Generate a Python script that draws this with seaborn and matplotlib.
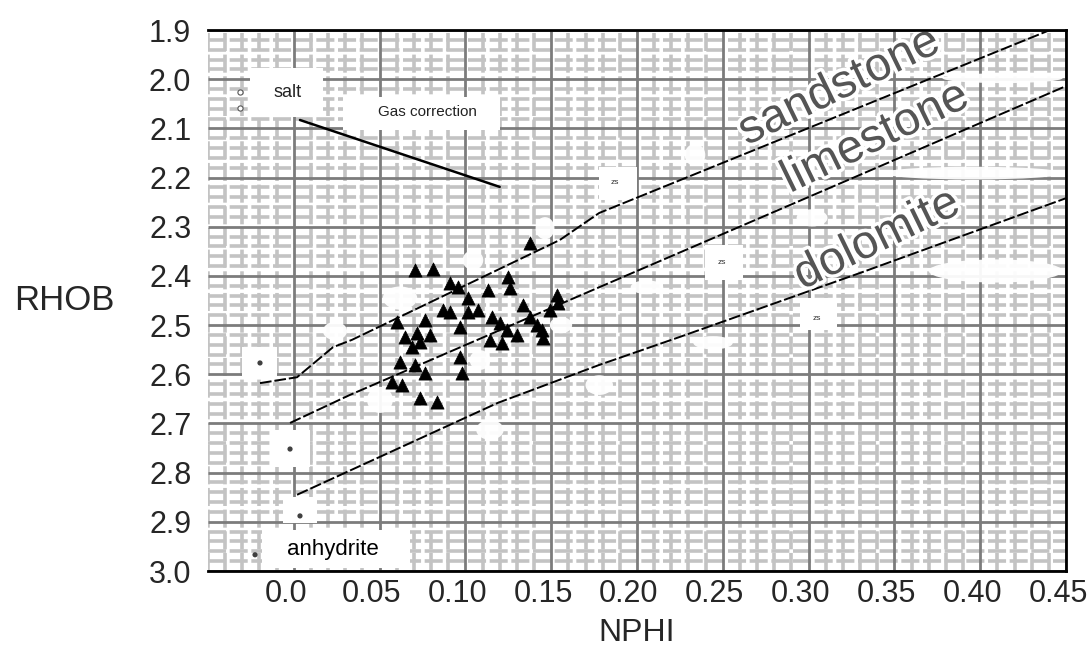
import pandas as pd
import seaborn as sns
import matplotlib
matplotlib.use('Agg')
import matplotlib.pyplot as plt
import matplotlib.patheffects as pe
from matplotlib.patches import Rectangle, Ellipse
from matplotlib.ticker import MultipleLocator
from matplotlib.transforms import ScaledTranslation

# pontos medidos (triangulos pretos)
nphi = [0.0706, 0.0811, 0.0910, 0.0957, 0.1132, 0.1248, 0.1260, 0.1376, 0.1015,
        0.0869, 0.0910, 0.1015, 0.1073, 0.1336, 0.1534, 0.1493, 0.0764, 0.0969,
        0.1155, 0.1202, 0.1242, 0.1376, 0.1417, 0.1446, 0.1301, 0.1452, 0.0648,
        0.0718, 0.0794, 0.0689, 0.0735, 0.1143, 0.1213, 0.0619, 0.0706, 0.0764,
        0.0980, 0.0572, 0.0631, 0.0735, 0.0834, 0.0601, 0.0969, 0.1540]
rhob = [2.388, 2.386, 2.414, 2.423, 2.429, 2.402, 2.425, 2.333, 2.445,
        2.469, 2.473, 2.473, 2.469, 2.459, 2.439, 2.469, 2.490, 2.504,
        2.484, 2.496, 2.510, 2.484, 2.500, 2.510, 2.520, 2.526, 2.524,
        2.516, 2.520, 2.545, 2.534, 2.530, 2.536, 2.575, 2.581, 2.597,
        2.597, 2.616, 2.622, 2.648, 2.656, 2.494, 2.565, 2.455]

# linhas de litologia
sand_nphi = [-0.0197, 0.0019, 0.0228, 0.0339, 0.155, 0.178, 0.4407]
sand_rhob = [2.618, 2.606, 2.545, 2.530, 2.327, 2.272, 1.900]
lime_nphi = [-0.0022, 0.0327, 0.178, 0.450]
lime_rhob = [2.699, 2.642, 2.423, 2.014]
dolo_nphi = [0.0019, 0.119, 0.178, 0.225, 0.330, 0.450]
dolo_rhob = [2.845, 2.658, 2.581, 2.524, 2.394, 2.242]
gas_nphi = [0.0036, 0.120]
gas_rhob = [2.083, 2.219]

x_ticks = [0.0, 0.05, 0.10, 0.15, 0.20, 0.25, 0.30, 0.35, 0.40, 0.45]
x_labels = ['0.0', '0.05', '0.10', '0.15', '0.20', '0.25', '0.30', '0.35', '0.40', '0.45']
y_ticks = [1.9, 2.0, 2.1, 2.2, 2.3, 2.4, 2.5, 2.6, 2.7, 2.8, 2.9, 3.0]
y_labels = ['1.9', '2.0', '2.1', '2.2', '2.3', '2.4', '2.5', '2.6', '2.7', '2.8', '2.9', '3.0']

# caixas brancas dos rotulos (x0, x1, y0, y1)
boxes = [(-0.0255, 0.017, 1.977, 2.077), (0.0287, 0.120, 2.036, 2.103),
         (-0.0185, 0.0677, 2.917, 2.994), (-0.0302, -0.0098, 2.545, 2.606),
         (-0.0121, 0.0094, 2.713, 2.789), (-0.0063, 0.0135, 2.850, 2.903),
         (0.178, 0.200, 2.179, 2.246), (0.2396, 0.2618, 2.337, 2.408),
         (0.295, 0.3166, 2.445, 2.510)]
# manchas brancas (x, y, largura, altura)
blobs = [(0.1464, 2.303, 0.011, 0.045), (0.2338, 2.154, 0.012, 0.045),
         (0.302, 2.282, 0.018, 0.035), (0.2058, 2.423, 0.019, 0.028),
         (0.2443, 2.536, 0.023, 0.027), (0.0619, 2.445, 0.020, 0.047),
         (0.1044, 2.368, 0.012, 0.040), (0.1085, 2.571, 0.012, 0.040),
         (0.1557, 2.500, 0.013, 0.033), (0.0502, 2.652, 0.015, 0.053),
         (0.024, 2.512, 0.014, 0.037), (0.413, 1.998, 0.070, 0.020),
         (0.3958, 2.191, 0.105, 0.026), (0.409, 2.39, 0.078, 0.047),
         (0.178, 2.622, 0.016, 0.040), (0.1143, 2.713, 0.016, 0.040)]
dots_nphi = [-0.0197, -0.0022, 0.0036, -0.0226]
dots_rhob = [2.577, 2.752, 2.888, 2.967]
circ_nphi = [-0.0314, -0.0314]
circ_rhob = [2.026, 2.059]
zs_nphi = [0.187, 0.2495, 0.305]
zs_rhob = [2.211, 2.372, 2.486]

sns.set_style('white')
plt.rcParams['font.family'] = ['Liberation Sans', 'DejaVu Sans']

fig = plt.figure(figsize=(10.91, 6.52), dpi=100)
ax = fig.add_axes([208 / 1091, 1 - 571 / 652, 858 / 1091, 541 / 652])
ax.set_xlim(-0.05, 0.45)
ax.set_ylim(3.0, 1.9)

# grade
ax.xaxis.set_minor_locator(MultipleLocator(0.01))
ax.yaxis.set_minor_locator(MultipleLocator(0.02))
ax.set_xticks(x_ticks, x_labels)
ax.set_yticks(y_ticks, y_labels)
ax.set_axisbelow(True)
ax.grid(which='minor', color='#c3c3c3', lw=2.6, ls=(0, (5, 1)))
ax.grid(which='major', visible=False)
ax.vlines(ax.get_xticks(), 1.9, 3.0, color='#7c7c7c', lw=2, zorder=0.6)
ax.hlines(ax.get_yticks(), -0.05, 0.45, color='#7c7c7c', lw=2, zorder=0.6)

for x0, x1, y0, y1 in boxes:
    ax.add_patch(Rectangle((x0, y0), x1 - x0, y1 - y0, facecolor='white',
                           edgecolor='none', zorder=1))
for x, y, w, h in blobs:
    ax.add_patch(Ellipse((x, y), w, h, facecolor='white', edgecolor='none',
                         alpha=0.95, zorder=1))

dash = (0, (6, 1.5))
for xs, ys in [(sand_nphi, sand_rhob), (lime_nphi, lime_rhob), (dolo_nphi, dolo_rhob)]:
    sns.lineplot(x=xs, y=ys, sort=False, estimator=None, color='black',
                 lw=1.4, linestyle=dash, ax=ax, zorder=3)
sns.lineplot(x=gas_nphi, y=gas_rhob, sort=False, estimator=None, color='black',
             lw=1.8, ax=ax, zorder=3)

sns.scatterplot(x=nphi, y=rhob, marker='^', s=90, color='black',
                edgecolor='black', linewidth=0.5, ax=ax, zorder=5)
sns.scatterplot(x=dots_nphi, y=dots_rhob, marker='o', s=14, color='#404040',
                edgecolor='none', ax=ax, zorder=4)
sns.scatterplot(x=circ_nphi, y=circ_rhob, marker='o', s=14, facecolor='white',
                edgecolor='#555555', linewidth=0.8, ax=ax, zorder=4)
for x, y in zip(zs_nphi, zs_rhob):
    ax.text(x, y, 'zs', fontsize=6, color='#333333', ha='center', va='center', zorder=4)

ax.text(-0.0034, 2.028, 'salt', fontsize=13, color='#222222', ha='center', va='center', zorder=4)
ax.text(0.0776, 2.067, 'Gas correction', fontsize=11, color='#222222', ha='center', va='center', zorder=4)
ax.text(0.0228, 2.957, 'anhydrite', fontsize=16, color='black', ha='center', va='center', zorder=4)

halo = [pe.withStroke(linewidth=5, foreground='white')]
for txt, x, y in [('sandstone', 0.318, 2.016), ('limestone', 0.339, 2.120), ('dolomite', 0.340, 2.327)]:
    ax.text(x, y, txt, fontsize=34, color='#555555', rotation=26, ha='center',
            va='center', rotation_mode='anchor', zorder=4, path_effects=halo)

ax.tick_params(which='both', length=0)
ax.tick_params(axis='x', labelsize=22, pad=6)
ax.tick_params(axis='y', labelsize=22, pad=12)
shift = ScaledTranslation(-8 / 100, 0, fig.dpi_scale_trans)
for lab in ax.get_xticklabels():
    lab.set_transform(lab.get_transform() + shift)
ax.set_xlabel('NPHI', fontsize=23, va='center')
ax.xaxis.set_label_coords(0.5, -0.115)
ax.set_ylabel('RHOB', fontsize=25, rotation=0, ha='center', va='center')
ax.yaxis.set_label_coords(-0.167, 0.5)

for side in ['top', 'right', 'bottom']:
    ax.spines[side].set_visible(True)
    ax.spines[side].set_color('black')
    ax.spines[side].set_linewidth(2)
    ax.spines[side].set_zorder(6)
ax.spines['left'].set_visible(False)

fig.savefig('out.png', dpi=100, facecolor='white')
